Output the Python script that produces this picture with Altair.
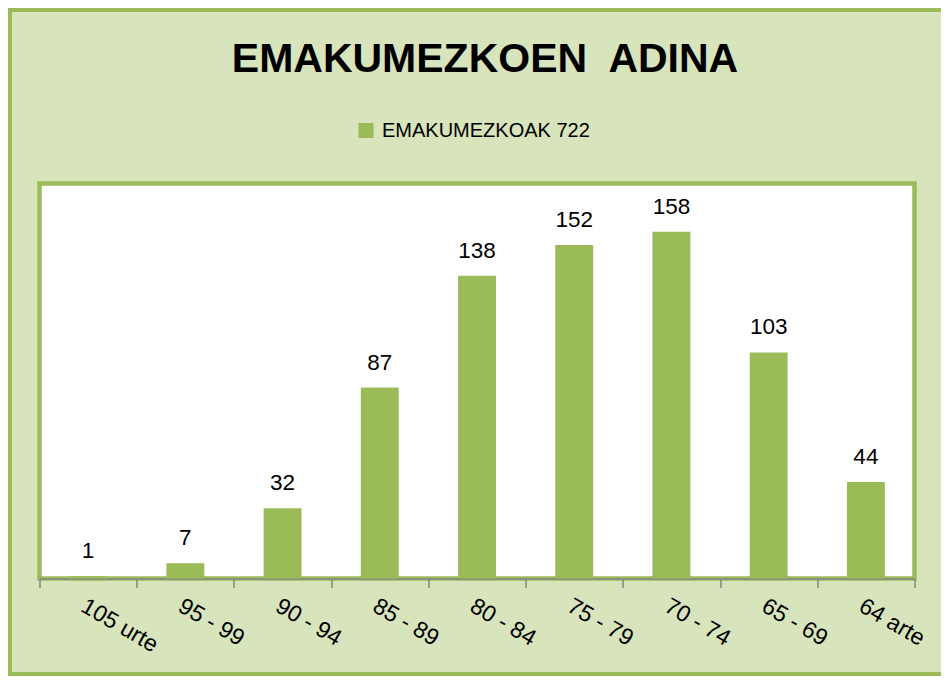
import altair as alt
import pandas as pd

# ---- data ----
categories = ["105 urte", "95 - 99", "90 - 94", "85 - 89", "80 - 84",
              "75 - 79", "70 - 74", "65 - 69", "64 arte"]
values = [1, 7, 32, 87, 138, 152, 158, 103, 44]
series_name = "EMAKUMEZKOAK 722"
title_text = "EMAKUMEZKOEN\u00a0 ADINA"

GREEN = "#9BBB59"
BG = "#D8E4BC"
AXIS_GRAY = "#868686"
FONT = "Liberation Sans"

df = pd.DataFrame({"adina": categories, "kopurua": values, "serie": series_name})
one = pd.DataFrame({"k": [0]})

W, H = 875, 395
PAD_L, PAD_T, PAD_R, PAD_B = 31.5, 175.5, 26.5, 97.5

base = alt.Chart(df).encode(
    x=alt.X(
        "adina:N",
        sort=categories,
        scale=alt.Scale(paddingInner=0, paddingOuter=0),
        axis=alt.Axis(
            title=None, grid=False,
            domainColor=AXIS_GRAY, domainWidth=1.5,
            tickColor=AXIS_GRAY, tickWidth=1.5, tickSize=9, tickBand="extent",
            labelAngle=30, labelAlign="left", labelBaseline="top",
            labelFont=FONT, labelFontSize=23, labelColor="black",
            labelPadding=7, labelOverlap=False, labelLimit=300,
        ),
    ),
    y=alt.Y("kopurua:Q", scale=alt.Scale(domain=[0, 180], nice=False), axis=None),
)

bars = base.mark_bar(width=alt.RelativeBandSize(0.39)).encode(
    color=alt.Color(
        "serie:N",
        scale=alt.Scale(domain=[series_name], range=[GREEN]),
        legend=alt.Legend(
            orient="none", legendX=316.5, legendY=-63, title=None,
            symbolType="square", symbolSize=225, symbolStrokeWidth=0,
            labelFont=FONT, labelFontSize=20, labelColor="black",
            labelOffset=6, labelLimit=400, padding=0,
        ),
    )
)

labels = base.mark_text(
    dy=-18, baseline="alphabetic", font=FONT, fontSize=22.5, color="black"
).encode(text="kopurua:Q")

title_mark = alt.Chart(one).mark_text(
    font=FONT, fontSize=41, fontWeight="bold", color="black",
    align="center", baseline="alphabetic",
).encode(x=alt.value(445.5), y=alt.value(-112), text=alt.value(title_text))

outer = alt.Chart(one).mark_rect(
    fill=None, stroke=GREEN, strokeWidth=4, fillOpacity=0
).encode(
    x=alt.value(-PAD_L + 2), x2=alt.value(W + PAD_R + 20),
    y=alt.value(-PAD_T + 2), y2=alt.value(H + PAD_B - 2),
)

chart = alt.layer(bars, labels, title_mark, outer).properties(
    width=W, height=H,
    background=BG,
    autosize=alt.AutoSizeParams(type="none"),
    padding={"left": PAD_L, "top": PAD_T, "right": PAD_R, "bottom": PAD_B},
).configure_view(
    fill="white", stroke=GREEN, strokeWidth=4.5
)

chart.save("out.html", embed_options={"renderer": "svg", "actions": False})
